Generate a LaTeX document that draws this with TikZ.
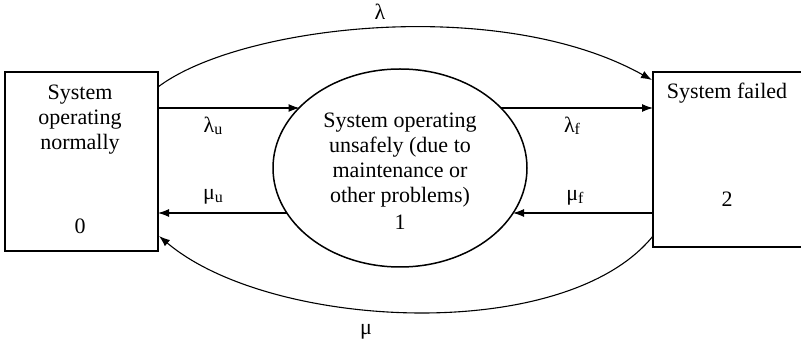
\documentclass[tikz,border=0pt]{standalone}
\usepackage{fontspec}
\setmainfont{Liberation Serif}
\usetikzlibrary{arrows.meta,shapes.geometric}
\newcommand{\subtx}[1]{\raisebox{-2.5pt}{\fontsize{16}{16}\selectfont #1}}
\begin{document}
\begin{tikzpicture}[x=1pt,y=-1pt,
  box/.style={draw,line width=1.5pt,inner sep=0pt},
  conn/.style={line width=1.1pt,-{Latex[length=11pt,width=8pt]}},
  txt/.style={font=\fontsize{22}{25}\selectfont,align=center,inner sep=0pt},
  lbl/.style={font=\fontsize{22}{25}\selectfont,inner sep=0pt}]
\useasboundingbox (0,0) rectangle (801,344);
% boxes
\node[box,minimum width=153pt,minimum height=179pt] (L) at (81.5,161.5) {};
\node[box,minimum width=152pt,minimum height=175pt] (R) at (729,159.5) {};
\node[box,ellipse,minimum width=254pt,minimum height=198pt] (E) at (400,168) {};
% texts
\node[txt] (tL) at (80,120) {System\\operating\\normally};
\node[txt] (t0) at (80,226) {0};
\node[txt] (tR) at (727,93) {System failed};
\node[txt] (t2) at (727,199) {2};
\node[txt] (tE) at (400,160) {System operating\\unsafely (due to\\maintenance or\\other problems)};
\node[txt] (t1) at (400,222) {1};
% connection points
\coordinate (Ltop) at (158,108);
\coordinate (Lbot) at (158,213);
\coordinate (Etl) at (299.5,108);
\coordinate (Ebl) at (287,213);
\coordinate (Etr) at (500.5,108);
\coordinate (Ebr) at (513,213);
\coordinate (Rtop) at (653,108);
\coordinate (Rbot) at (653,213);
\coordinate (Lhi) at (158,87);
\coordinate (Rhi) at (652,80);
\coordinate (Rlo) at (653,236);
\coordinate (Llo) at (159,236);
% straight arrows
\draw[conn] (Ltop) -- (Etl);
\draw[conn] (Ebl) -- (Lbot);
\draw[conn] (Etr) -- (Rtop);
\draw[conn] (Rbot) -- (Ebr);
% curves
\draw[conn] (Lhi) .. controls (240,25) and (500,-5) .. (Rhi);
\draw[conn] (Rlo) .. controls (565,345) and (270,330) .. (Llo);
% labels
\node[lbl] (la) at (213,126) {λ\subtx{u}};
\node[lbl] (mu) at (213,197) {μ\subtx{u}};
\node[lbl] (lf) at (572,126) {λ\subtx{f}};
\node[lbl] (mf) at (575,198) {μ\subtx{f}};
\node[lbl] (l) at (380,12) {λ};
\node[lbl] (m) at (366,332) {μ};
\end{tikzpicture}
\end{document}
